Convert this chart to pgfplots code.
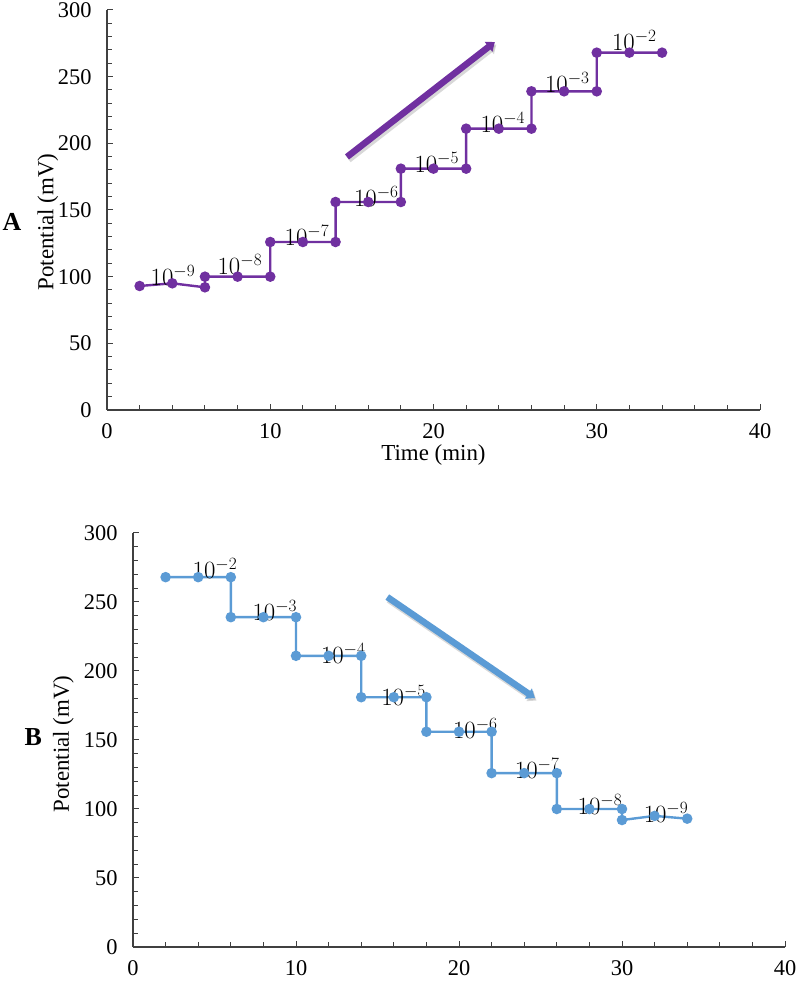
\documentclass[border=0pt]{standalone}
\usepackage{fontspec}
\setmainfont{Liberation Serif}
\usepackage{pgfplots}
\pgfplotsset{compat=1.18}
\usetikzlibrary{arrows.meta}
\definecolor{purp}{HTML}{7030A0}
\definecolor{blu}{HTML}{5B9BD5}
\pgfplotsset{mystyle/.style={
  scale only axis, axis lines*=left,
  xmin=0, xmax=40, ymin=0, ymax=300,
  xtick={0,10,...,40}, ytick={0,50,...,300},
  minor x tick num=4, minor y tick num=4,
  tick align=inside, major tick length=6bp, minor tick length=4.5bp,
  axis line style={black!75, line width=1.1bp},
  tick style={black!75, line width=1bp},
  tick label style={font=\fontsize{22.5}{26}\selectfont},
  /pgf/number format/assume math mode=true,
  yticklabel style={xshift=-12bp},
  xticklabel style={yshift=-10bp},
  label style={font=\fontsize{23}{26}\selectfont},
  clip=false,
}}
\tikzset{lab/.style={font=\fontsize{25}{28}\selectfont, inner sep=0pt}}
\begin{document}
\begin{tikzpicture}
\useasboundingbox (0,0) rectangle (797bp,981bp);
% ---------- Panel A ----------
\begin{axis}[mystyle, at={(107bp,571bp)}, anchor=south west,
  width=653bp, height=400bp,
  xlabel={Time (min)}, ylabel={Potential (mV)},
  xlabel style={at={(axis description cs:0.5,0)}, anchor=center, yshift=-45bp},
  ylabel style={at={(axis description cs:-0.0904,0.47)}, anchor=center},
]
\addplot[purp, line width=2.4bp, mark=*, mark size=4bp, mark options={fill=purp, draw=purp}]
coordinates {(2,93) (4,95) (6,92) (6,100) (8,100) (10,100) (10,126) (12,126) (14,126)
 (14,156) (16,156) (18,156) (18,181) (20,181) (22,181) (22,211) (24,211) (26,211)
 (26,239) (28,239) (30,239) (30,268) (32,268) (34,268)};
\node[lab] at (axis cs:4.04,101) {$10^{-9}$};
\node[lab] at (axis cs:8.14,108.8) {$10^{-8}$};
\node[lab] at (axis cs:12.25,131) {$10^{-7}$};
\node[lab] at (axis cs:16.5,160) {$10^{-6}$};
\node[lab] at (axis cs:20.2,186) {$10^{-5}$};
\node[lab] at (axis cs:24.25,216) {$10^{-4}$};
\node[lab] at (axis cs:28.2,246) {$10^{-3}$};
\node[lab] at (axis cs:32.3,277) {$10^{-2}$};
\draw[black!30, opacity=0.5, line width=7bp, -{Triangle[width=12bp,length=8bp]}, shift={(1.5bp,-2.5bp)}] (axis cs:14.7,189.8) -- (axis cs:23.76,276);
\draw[purp, line width=6.5bp, -{Triangle[width=12bp,length=8bp]}] (axis cs:14.7,189.8) -- (axis cs:23.76,276);
\node[font=\fontsize{26}{28}\selectfont\bfseries] at (axis description cs:-0.1455,0.47) {A};
\end{axis}
% ---------- Panel B ----------
\begin{axis}[mystyle, at={(133bp,34bp)}, anchor=south west,
  width=652bp, height=414bp,
  ylabel={Potential (mV)},
  ylabel style={at={(axis description cs:-0.107,0.49)}, anchor=center},
]
\addplot[blu, line width=2.4bp, mark=*, mark size=4bp, mark options={fill=blu, draw=blu}]
coordinates {(2,268) (4,268) (6,268) (6,239) (8,239) (10,239) (10,211) (12,211) (14,211)
 (14,181) (16,181) (18,181) (18,156) (20,156) (22,156) (22,126) (24,126) (26,126)
 (26,100) (28,100) (30,100) (30,92) (32,95) (34,93)};
\node[lab] at (axis cs:5.03,274.6) {$10^{-2}$};
\node[lab] at (axis cs:8.7,244) {$10^{-3}$};
\node[lab] at (axis cs:12.9,213) {$10^{-4}$};
\node[lab] at (axis cs:16.6,182.6) {$10^{-5}$};
\node[lab] at (axis cs:21.0,158.7) {$10^{-6}$};
\node[lab] at (axis cs:24.8,129.7) {$10^{-7}$};
\node[lab] at (axis cs:28.65,103.6) {$10^{-8}$};
\node[lab] at (axis cs:32.7,97.8) {$10^{-9}$};
\draw[black!30, opacity=0.5, line width=7bp, -{Triangle[width=12bp,length=8bp]}, shift={(1.5bp,-2.5bp)}] (axis cs:15.6,253.6) -- (axis cs:24.66,180.4);
\draw[blu, line width=6.5bp, -{Triangle[width=12bp,length=8bp]}] (axis cs:15.6,253.6) -- (axis cs:24.66,180.4);
\node[font=\fontsize{26}{28}\selectfont\bfseries] at (axis description cs:-0.153,0.507) {B};
\end{axis}
\end{tikzpicture}
\end{document}
